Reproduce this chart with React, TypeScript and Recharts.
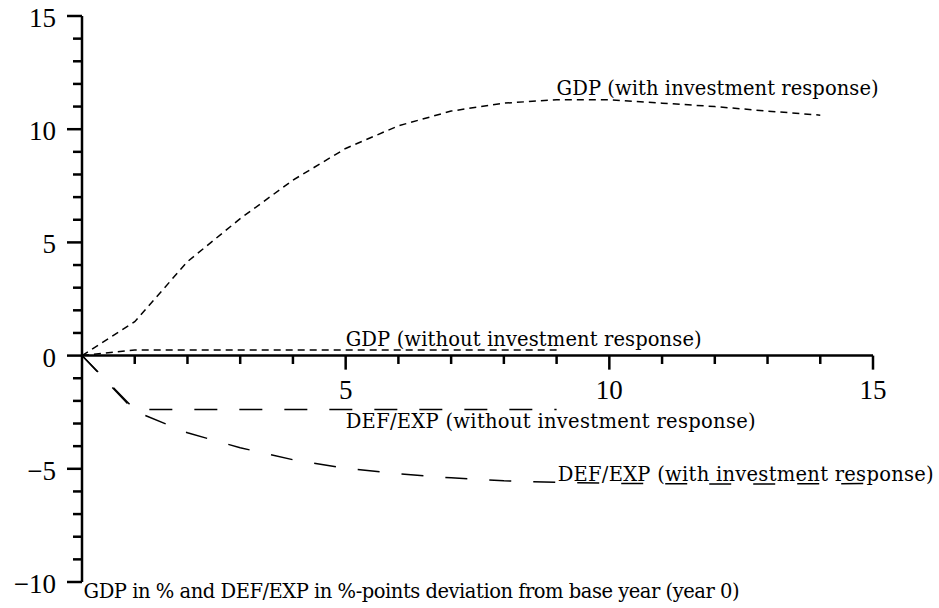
import { LineChart, Line, XAxis, YAxis, ReferenceLine, ReferenceDot } from 'recharts';

// years on the horizontal axis
const years = [0, 1, 2, 3, 4, 5, 6, 7, 8, 9, 10, 11, 12, 13, 14, 15];
const shortYears = [0, 1, 9];

// GDP in %, with investment response (years 0-14)
const gdpWith = [0, 1.5, 4.15, 6.05, 7.75, 9.15, 10.15, 10.8, 11.15, 11.3, 11.3, 11.15, 11.0, 10.8, 10.62];
// DEF/EXP in %-points, with investment response (years 0-15)
const defWith = [0, -2.45, -3.41, -4.07, -4.6, -4.98, -5.22, -5.4, -5.53, -5.6, -5.64, -5.66, -5.67, -5.67, -5.66, -5.65];
// without investment response (years 0, 1, 9)
const gdpWithout = [0, 0.25, 0.25];
const defWithout = [0, -2.38, -2.38];

const yTicks = [-10, -9, -8, -7, -6, -5, -4, -3, -2, -1, 0, 1, 2, 3, 4, 5, 6, 7, 8, 9, 10, 11, 12, 13, 14, 15];
const xTicks = [1, 2, 3, 4, 5, 6, 7, 8, 9, 10, 11, 12, 13, 14, 15];

const rows = (xs: number[], ys: number[]) => ys.map((y, i) => ({ x: xs[i], y }));

const NUM_FONT = '"Liberation Serif", serif';
const TXT_FONT = '"DejaVu Serif", serif';

const fmt = (v: number) => (v < 0 ? `\u2212${Math.abs(v)}` : `${v}`);

function YTick({ x, y, payload }: any) {
  const major = payload.value % 5 === 0;
  return (
    <g>
      <line x1={x - (major ? 15 : 9)} x2={x} y1={y} y2={y} stroke="#000" strokeWidth={2.5} />
      {major && (
        <text x={x - 26} y={y + 11} textAnchor="end" fontFamily={NUM_FONT} fontSize={27} fill="#000">
          {fmt(payload.value)}
        </text>
      )}
    </g>
  );
}

function XTickLabel({ viewBox, v }: any) {
  if (!viewBox) return null;
  return (
    <text x={viewBox.x} y={viewBox.y + 43} textAnchor="middle" fontFamily={NUM_FONT} fontSize={27} fill="#000">
      {v}
    </text>
  );
}

function Note({ viewBox, text, w }: any) {
  if (!viewBox) return null;
  return (
    <text x={viewBox.x} y={viewBox.y} fontFamily={TXT_FONT} fontSize={19.5} fill="#000"
      textLength={w} lengthAdjust="spacing">
      {text}
    </text>
  );
}

export default function App() {
  return (
    <div style={{ position: 'absolute', left: 0, top: 0, background: '#fff' }}>
      <LineChart width={939} height={608} margin={{ top: 16, right: 66, bottom: 26, left: 0 }}>
        <XAxis type="number" dataKey="x" domain={[0, 15]} hide />
        <YAxis
          type="number"
          domain={[-10, 15]}
          ticks={yTicks}
          interval={0}
          width={82}
          tickSize={0}
          tickMargin={0}
          tickLine={false}
          axisLine={{ stroke: '#000', strokeWidth: 2.5 }}
          tick={<YTick />}
        />

        {/* horizontal axis drawn at y = 0 */}
        <ReferenceLine y={0} stroke="#000" strokeWidth={2.5} />
        {xTicks.map((v) => (
          <ReferenceLine
            key={v}
            segment={[{ x: v, y: 0 }, { x: v, y: v % 5 === 0 ? -0.62 : -0.37 }]}
            stroke="#000"
            strokeWidth={2.5}
            ifOverflow="visible"
            label={v % 5 === 0 ? <XTickLabel v={v} /> : undefined}
          />
        ))}

        <Line data={rows(years, gdpWith)} dataKey="y" type="linear" stroke="#000" strokeWidth={1.5}
          strokeDasharray="7 5" dot={false} isAnimationActive={false} />
        <Line data={rows(shortYears, gdpWithout)} dataKey="y" type="linear" stroke="#000" strokeWidth={1.5}
          strokeDasharray="7 5" dot={false} isAnimationActive={false} />
        <Line data={rows(shortYears, defWithout)} dataKey="y" type="linear" stroke="#000" strokeWidth={1.5}
          strokeDasharray="23 22" dot={false} isAnimationActive={false} />
        <Line data={rows(years, defWith)} dataKey="y" type="linear" stroke="#000" strokeWidth={1.5}
          strokeDasharray="22 22" dot={false} isAnimationActive={false} />

        <ReferenceDot x={9} y={11.52} r={0} fill="none" stroke="none" ifOverflow="visible"
          label={<Note text="GDP (with investment response)" w={322} />} />
        <ReferenceDot x={5} y={0.43} r={0} fill="none" stroke="none" ifOverflow="visible"
          label={<Note text="GDP (without investment response)" w={356} />} />
        <ReferenceDot x={5} y={-3.19} r={0} fill="none" stroke="none" ifOverflow="visible"
          label={<Note text="DEF/EXP (without investment response)" w={410} />} />
        <ReferenceDot x={9.02} y={-5.54} r={0} fill="none" stroke="none" ifOverflow="visible"
          label={<Note text="DEF/EXP (with investment response)" w={376} />} />
        <ReferenceDot x={0.03} y={-10.71} r={0} fill="none" stroke="none" ifOverflow="visible"
          label={<Note text="GDP in % and DEF/EXP in %-points deviation from base year (year 0)" w={656} />} />
      </LineChart>
    </div>
  );
}
